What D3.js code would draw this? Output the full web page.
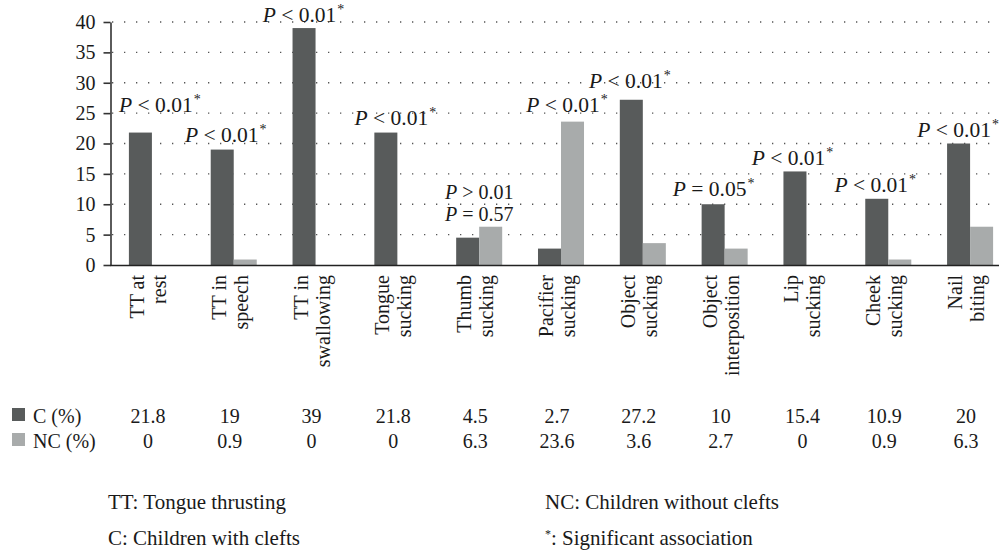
<!DOCTYPE html>
<html>
<head>
<meta charset="utf-8">
<script src="https://cdn.jsdelivr.net/npm/d3@7"></script>
<style>
  html, body { margin: 0; padding: 0; background: #fff; }
  svg { display: block; }
  text { font-family: "Liberation Serif", "DejaVu Serif", serif; fill: #1a1a1a; }
</style>
</head>
<body>
<svg id="chart" width="999" height="550"></svg>
<script>
// ---- data ----
const categories = [
  ["TT at", "rest"], ["TT in", "speech"], ["TT in", "swallowing"], ["Tongue", "sucking"],
  ["Thumb", "sucking"], ["Pacifier", "sucking"], ["Object", "sucking"], ["Object", "interposition"],
  ["Lip", "sucking"], ["Cheek", "sucking"], ["Nail", "biting"]
];
const seriesNames = ["C (%)", "NC (%)"];
const cValues  = [21.8, 19, 39, 21.8, 4.5, 2.7, 27.2, 10, 15.4, 10.9, 20];
const ncValues = [0, 0.9, 0, 0, 6.3, 23.6, 3.6, 2.7, 0, 0.9, 6.3];
const yTicks = [0, 5, 10, 15, 20, 25, 30, 35, 40];
const pLabels = [
  ["< 0.01*"], ["< 0.01*"], ["< 0.01*"], ["< 0.01*"], ["> 0.01", "= 0.57"],
  ["< 0.01*"], ["< 0.01*"], ["= 0.05*"], ["< 0.01*"], ["< 0.01*"], ["< 0.01*"]
];
const footnotes = [
  ["TT: Tongue thrusting", "C: Children with clefts"],
  ["NC: Children without clefts", "*: Significant association"]
];

// ---- layout (pixels) ----
const colors = ["#585b5b", "#a8abab"];
const labelNudge = [[8, 21], [-8, 8], [-12, 6], [-2, 8], [0, 6], [6, 10], [-13, 12], [-11, 8], [-14, 6.5], [-13, 7], [-12, 7]];
const FS = 20;

const svg = d3.select("#chart");
const y = d3.scaleLinear().domain([0, 40]).range([265, 22]);
const x = d3.scaleBand().domain(d3.range(categories.length)).range([111, 1011])
  .paddingInner(0.4375).paddingOuter(0.21875);
const xs = d3.scaleBand().domain([0, 1]).range([0, x.bandwidth()]);

// grid
svg.append("g").selectAll("line").data(yTicks.filter(t => t > 0)).join("line")
  .attr("x1", 112).attr("x2", 999).attr("y1", d => y(d)).attr("y2", d => y(d))
  .attr("stroke", "#555").attr("stroke-width", 1.3).attr("stroke-dasharray", "1.3,10.7");

// bars
const series = [cValues, ncValues];
series.forEach((vals, si) => {
  svg.append("g").selectAll("rect").data(vals).join("rect")
    .attr("x", (d, i) => x(i) + xs(si))
    .attr("width", xs.bandwidth())
    .attr("y", d => y(d))
    .attr("height", d => y(0) - y(d))
    .attr("fill", colors[si]);
});

// y axis
const yAxis = svg.append("g").attr("transform", "translate(110.5,0)")
  .call(d3.axisLeft(y).tickValues(yTicks).tickSize(7).tickPadding(8).tickSizeOuter(0));
yAxis.select(".domain").attr("stroke", "#333").attr("stroke-width", 1.6);
yAxis.selectAll(".tick line").attr("stroke", "#333").attr("stroke-width", 1.6);
yAxis.selectAll(".tick text").style("font-family", "Liberation Serif").style("font-size", FS + "px").attr("fill", "#1a1a1a");

// x axis line
svg.append("line").attr("x1", 110).attr("x2", 999).attr("y1", y(0) + 0.5).attr("y2", y(0) + 0.5)
  .attr("stroke", "#222").attr("stroke-width", 1.6);

// category labels (rotated)
const catG = svg.append("g").selectAll("g").data(categories).join("g")
  .attr("transform", (d, i) => `translate(${x(i) + x.bandwidth() / 2},275) rotate(-90)`);
catG.each(function(lines) {
  const g = d3.select(this);
  lines.forEach((ln, k) => {
    g.append("text").attr("x", 0).attr("y", k === 0 ? -8 : 14)
      .attr("text-anchor", "end").style("font-size", "20px").text(ln);
  });
});

// p-value annotations
pLabels.forEach((lines, i) => {
  const top = y(Math.max(cValues[i], ncValues[i]));
  const cx = x(i) + x.bandwidth() / 2 + labelNudge[i][0];
  const base = top - labelNudge[i][1];
  const multi = lines.length > 1;
  lines.forEach((ln, k) => {
    const yy = base - (lines.length - 1 - k) * 22;
    const t = svg.append("text").attr("x", cx).attr("y", yy).attr("text-anchor", "middle")
      .style("font-size", multi ? "20px" : "21.5px");
    t.append("tspan").style("font-style", "italic").text("P");
    const sig = ln.endsWith("*");
    t.append("tspan").text(" " + (sig ? ln.slice(0, -1) : ln));
    if (sig) t.append("tspan").attr("dx", 1).attr("dy", -8).style("font-size", "14px").text("*");
  });
});

// data table
const tblY = [423, 448];
series.forEach((vals, si) => {
  svg.append("rect").attr("x", 12).attr("y", tblY[si] - 15).attr("width", 13).attr("height", 13)
    .attr("fill", colors[si]);
  svg.append("text").attr("x", 33).attr("y", tblY[si]).style("font-size", FS + "px").text(seriesNames[si]);
  svg.append("g").selectAll("text").data(vals).join("text")
    .attr("x", (d, i) => x(i) + x.bandwidth() / 2 - 4)
    .attr("y", tblY[si]).attr("text-anchor", "middle").style("font-size", FS + "px")
    .text(d => String(d));
});

// footnotes
const fnX = [108, 545], fnY = [509, 545];
footnotes.forEach((col, c) => {
  col.forEach((ln, r) => {
    const t = svg.append("text").attr("x", fnX[c]).attr("y", fnY[r]).style("font-size", "21px");
    if (ln.startsWith("*")) {
      t.append("tspan").attr("dy", -7).style("font-size", "12px").text("*");
      t.append("tspan").attr("dy", 7).text(ln.slice(1));
    } else {
      t.text(ln);
    }
  });
});
</script>
</body>
</html>
